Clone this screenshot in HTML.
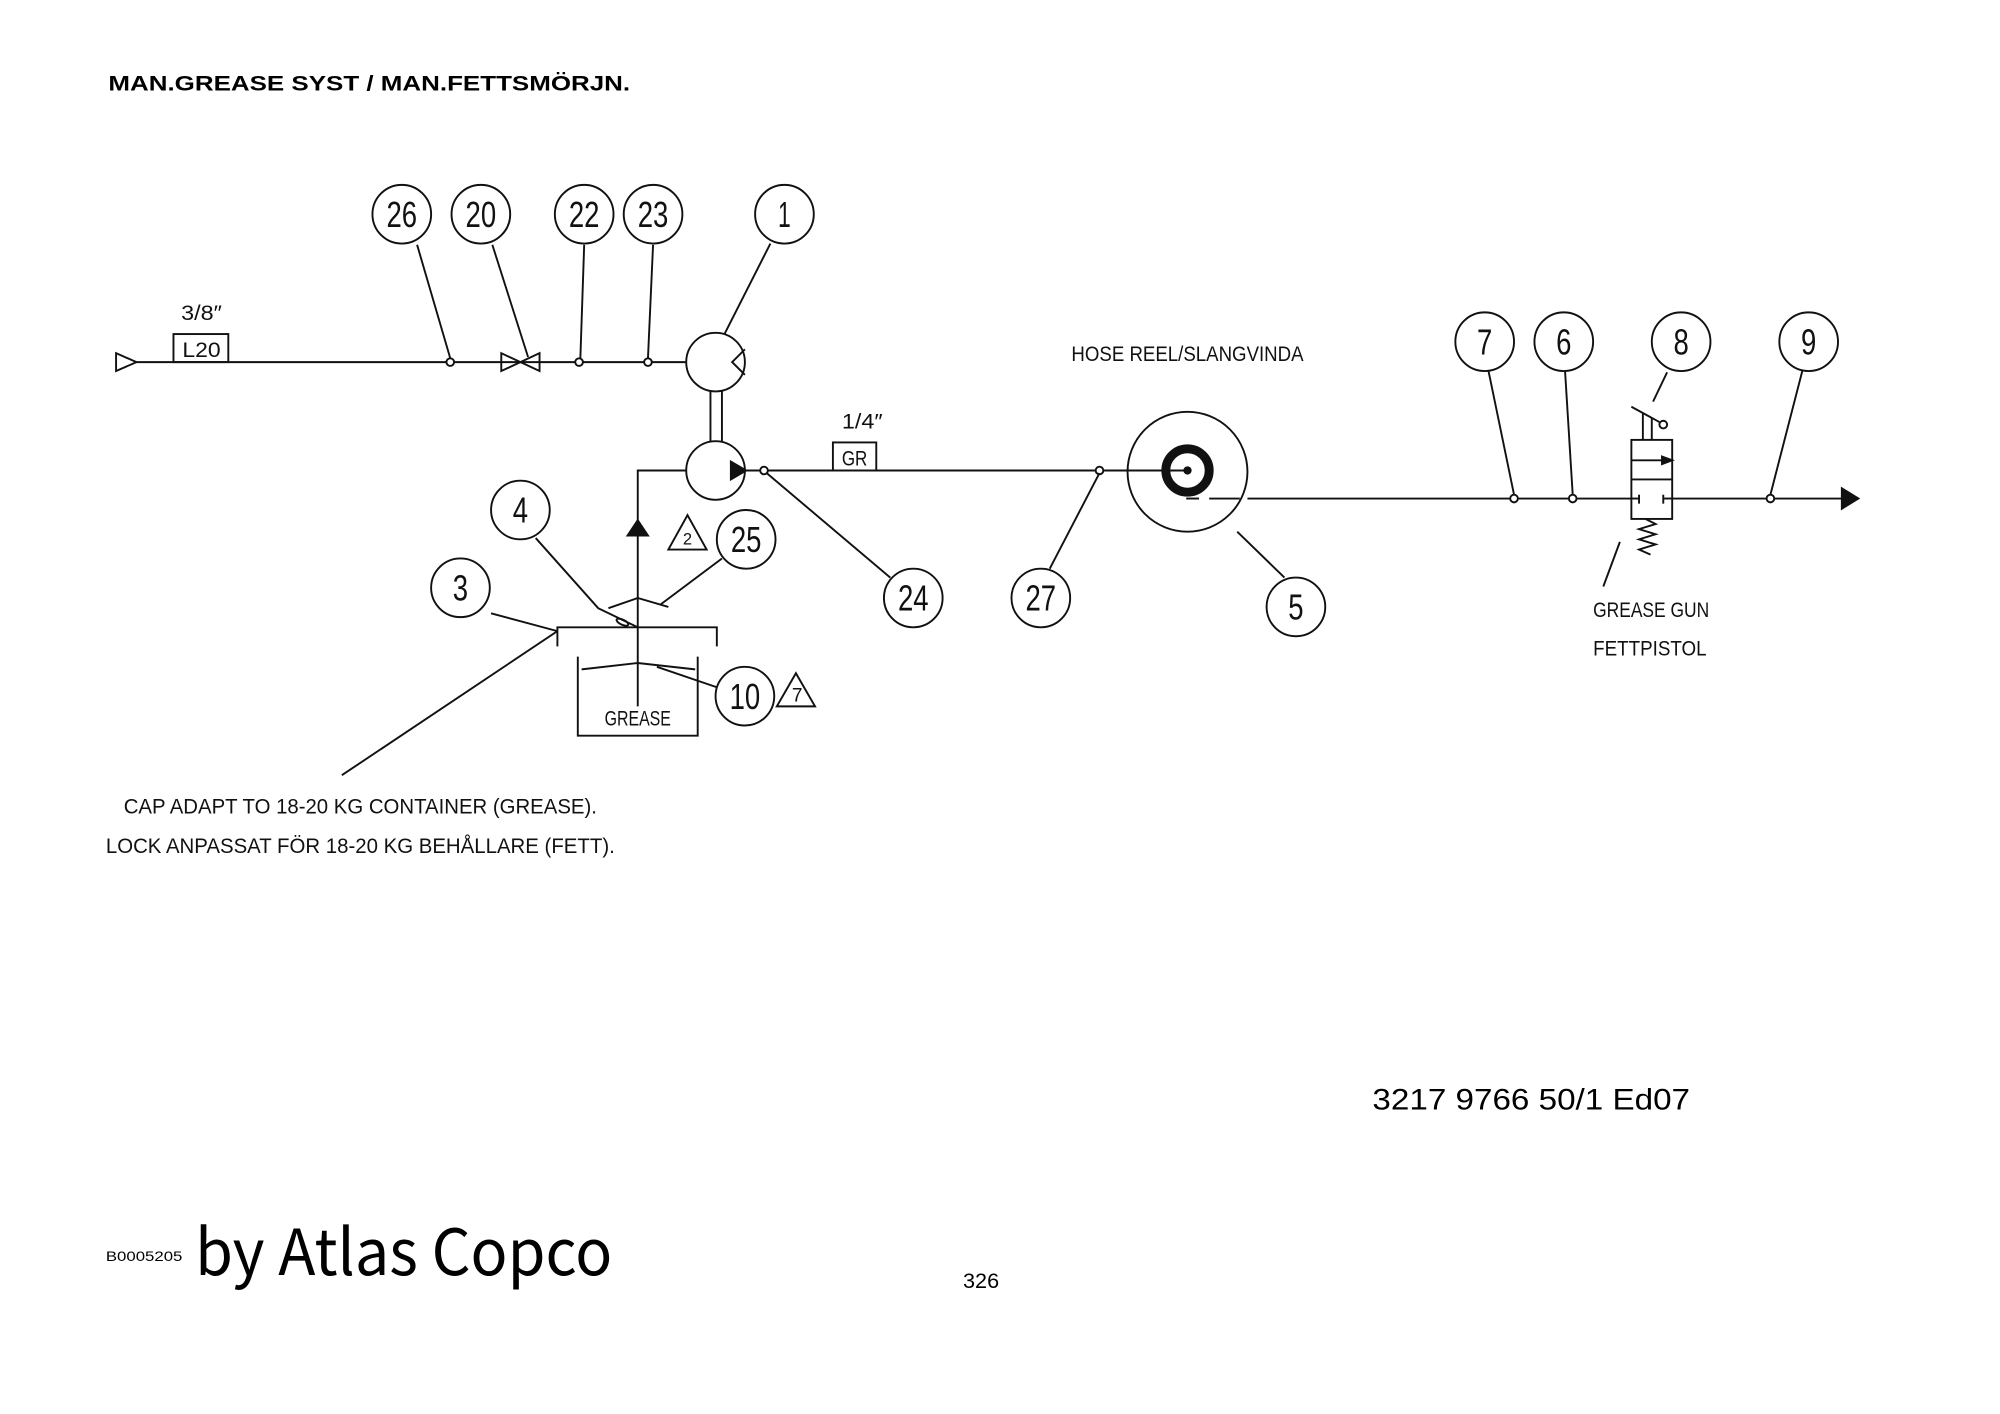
<!DOCTYPE html>
<html><head><meta charset="utf-8"><style>
html,body{margin:0;padding:0;background:#fff;}
svg{display:block;}
.d{font-family:"Liberation Sans",sans-serif;fill:#111;}
</style></head><body>
<svg width="2000" height="1414" viewBox="0 0 1568 1109" preserveAspectRatio="none" xmlns="http://www.w3.org/2000/svg">
<rect width="1568" height="1109" fill="#fff"/>
<text x="85" y="71" font-family="Liberation Sans,sans-serif" font-weight="bold" font-size="17" textLength="409" lengthAdjust="spacingAndGlyphs" fill="#000">MAN.GREASE SYST / MAN.FETTSMÖRJN.</text>

<g stroke="#111" stroke-width="1.5" fill="none">
<!-- top air line -->
<polygon points="91,277 107,284 91,291"/>
<line x1="107" y1="284" x2="538" y2="284"/>
<rect x="136" y="262" width="43" height="22"/>
<polygon points="393,277 423,291 423,277 393,291"/>
<circle cx="353" cy="284" r="3" fill="#fff"/>
<circle cx="454" cy="284" r="3" fill="#fff"/>
<circle cx="508" cy="284" r="3" fill="#fff"/>
<!-- motor -->
<circle cx="561" cy="284" r="23"/>
<polyline points="584,274 574,284 584,294"/>
<line x1="557" y1="307" x2="557" y2="346"/>
<line x1="566" y1="307" x2="566" y2="346"/>
<circle cx="561" cy="369" r="23"/>
<polygon points="573,362 585,369 573,376" fill="#111"/>
<line x1="585" y1="369" x2="931" y2="369"/>
<circle cx="599" cy="369" r="3" fill="#fff"/>
<circle cx="862" cy="369" r="3" fill="#fff"/>
<rect x="653" y="347" width="34" height="22"/>
<!-- suction -->
<polyline points="538,369 500,369 500,554"/>
<polygon points="492,420 508,420 500,408" fill="#111"/>
<polygon points="524,431 554,431 539,404"/>
<polyline points="477,477 500,469 524,476"/>
<polyline points="437,507 437,492 562,492 562,507"/>
<polyline points="453,515 453,577 547,577 547,515"/>
<polyline points="456,525 500,520 545,525"/>
<ellipse cx="488" cy="488" rx="5" ry="2" transform="rotate(25 488 488)"/>
<!-- leaders -->
<line x1="327" y1="192" x2="353" y2="281"/>
<line x1="386" y1="192" x2="414" y2="280"/>
<line x1="458" y1="192" x2="455" y2="281"/>
<line x1="512" y1="192" x2="508" y2="281"/>
<line x1="604" y1="191" x2="568" y2="262"/>
<polyline points="420,422 469,477 500,492"/>
<line x1="385" y1="481" x2="437" y2="495"/>
<line x1="437" y1="495" x2="268" y2="608"/>
<line x1="566" y1="438" x2="518" y2="474"/>
<line x1="562" y1="539" x2="515" y2="523"/>
<line x1="698" y1="453" x2="601" y2="371"/>
<line x1="823" y1="446" x2="862" y2="371"/>
<line x1="1007" y1="453" x2="970" y2="417"/>
<!-- reel -->
<circle cx="931" cy="370" r="47"/>
<circle cx="931" cy="369" r="17" stroke-width="7"/>
<circle cx="931" cy="369" r="2.5" fill="#111"/>
<line x1="930" y1="391" x2="940" y2="391"/>
<line x1="948" y1="391" x2="972" y2="391"/>
<line x1="978" y1="391" x2="1444" y2="391"/>
<polygon points="1444,383 1457,391 1444,399" fill="#111"/>
<circle cx="1187" cy="391" r="3" fill="#fff"/>
<circle cx="1233" cy="391" r="3" fill="#fff"/>
<circle cx="1388" cy="391" r="3" fill="#fff"/>
<line x1="1167" y1="291" x2="1187" y2="388"/>
<line x1="1227" y1="291" x2="1233" y2="388"/>
<line x1="1307" y1="292" x2="1296" y2="315"/>
<line x1="1413" y1="291" x2="1388" y2="388"/>
<!-- valve -->
<rect x="1279" y="345" width="32" height="62" fill="#fff"/>
<line x1="1279" y1="361" x2="1304" y2="361"/>
<polygon points="1303,358 1311,361 1303,364" fill="#111"/>
<line x1="1279" y1="376" x2="1311" y2="376"/>
<line x1="1285" y1="388" x2="1285" y2="395"/>
<line x1="1304" y1="388" x2="1304" y2="395"/>
<line x1="1279" y1="391" x2="1285" y2="391"/>
<line x1="1304" y1="391" x2="1311" y2="391"/>
<line x1="1288" y1="324" x2="1288" y2="345"/>
<line x1="1295" y1="328" x2="1295" y2="345"/>
<line x1="1279" y1="319" x2="1301" y2="331"/>
<circle cx="1304" cy="333" r="3"/>
<polyline points="1290,407 1298,411 1285,415 1298,419 1285,423 1298,427 1285,431 1294,435"/>
<line x1="1270" y1="425" x2="1257" y2="460"/>
<!-- callout circles -->
<circle cx="315" cy="168" r="23"/><circle cx="377" cy="168" r="23"/>
<circle cx="458" cy="168" r="23"/><circle cx="512" cy="168" r="23"/>
<circle cx="615" cy="168" r="23"/>
<circle cx="408" cy="400" r="23"/><circle cx="361" cy="461" r="23"/>
<circle cx="585" cy="423" r="23"/><circle cx="584" cy="546" r="23"/>
<polygon points="609,554 639,554 624,528"/>
<circle cx="716" cy="469" r="23"/><circle cx="816" cy="469" r="23"/>
<circle cx="1016" cy="476" r="23"/>
<circle cx="1164" cy="268" r="23"/><circle cx="1226" cy="268" r="23"/>
<circle cx="1318" cy="268" r="23"/><circle cx="1418" cy="268" r="23"/>
</g>

<g class="d" font-size="28" text-anchor="middle">
<text x="315" y="178" textLength="24" lengthAdjust="spacingAndGlyphs">26</text>
<text x="377" y="178" textLength="24" lengthAdjust="spacingAndGlyphs">20</text>
<text x="458" y="178" textLength="24" lengthAdjust="spacingAndGlyphs">22</text>
<text x="512" y="178" textLength="24" lengthAdjust="spacingAndGlyphs">23</text>
<text x="615" y="178" textLength="10" lengthAdjust="spacingAndGlyphs">1</text>
<text x="408" y="410" textLength="12" lengthAdjust="spacingAndGlyphs">4</text>
<text x="361" y="471" textLength="12" lengthAdjust="spacingAndGlyphs">3</text>
<text x="585" y="433" textLength="24" lengthAdjust="spacingAndGlyphs">25</text>
<text x="584" y="556" textLength="24" lengthAdjust="spacingAndGlyphs">10</text>
<text x="716" y="479" textLength="24" lengthAdjust="spacingAndGlyphs">24</text>
<text x="816" y="479" textLength="24" lengthAdjust="spacingAndGlyphs">27</text>
<text x="1016" y="486" textLength="12" lengthAdjust="spacingAndGlyphs">5</text>
<text x="1164" y="278" textLength="12" lengthAdjust="spacingAndGlyphs">7</text>
<text x="1226" y="278" textLength="12" lengthAdjust="spacingAndGlyphs">6</text>
<text x="1318" y="278" textLength="12" lengthAdjust="spacingAndGlyphs">8</text>
<text x="1418" y="278" textLength="12" lengthAdjust="spacingAndGlyphs">9</text>
<text x="539" y="427" font-size="13">2</text>
<text x="625" y="550" font-size="15">7</text>
</g>

<g class="d" font-size="17">
<text x="142" y="251" textLength="32" lengthAdjust="spacingAndGlyphs">3/8″</text>
<text x="143" y="280" textLength="30" lengthAdjust="spacingAndGlyphs">L20</text>
<text x="660" y="336" textLength="32" lengthAdjust="spacingAndGlyphs">1/4″</text>
<text x="660" y="365" textLength="20" lengthAdjust="spacingAndGlyphs">GR</text>
<text x="474" y="569" textLength="52" lengthAdjust="spacingAndGlyphs">GREASE</text>
<text x="840" y="283" textLength="182" lengthAdjust="spacingAndGlyphs">HOSE REEL/SLANGVINDA</text>
<text x="1249" y="484" textLength="91" lengthAdjust="spacingAndGlyphs">GREASE GUN</text>
<text x="1249" y="514" textLength="89" lengthAdjust="spacingAndGlyphs">FETTPISTOL</text>
<text x="97" y="638" textLength="371" lengthAdjust="spacingAndGlyphs">CAP ADAPT TO 18-20 KG CONTAINER (GREASE).</text>
<text x="83" y="669" textLength="399" lengthAdjust="spacingAndGlyphs">LOCK ANPASSAT FÖR 18-20 KG BEHÅLLARE (FETT).</text>
</g>

<text x="1076" y="870" font-family="Liberation Sans,sans-serif" font-size="23" textLength="249" lengthAdjust="spacingAndGlyphs" fill="#000">3217 9766 50/1  Ed07</text>
<text x="83" y="989" font-family="Liberation Sans,sans-serif" font-size="11" textLength="60" lengthAdjust="spacingAndGlyphs" fill="#000">B0005205</text>
<text x="153" y="1000" font-family="'Noto Sans CJK JP',sans-serif" font-size="50" textLength="327" lengthAdjust="spacingAndGlyphs" fill="#000">by Atlas Copco</text>
<text x="755" y="1010" font-family="Liberation Sans,sans-serif" font-size="17" fill="#000">326</text>
</svg>
</body></html>
